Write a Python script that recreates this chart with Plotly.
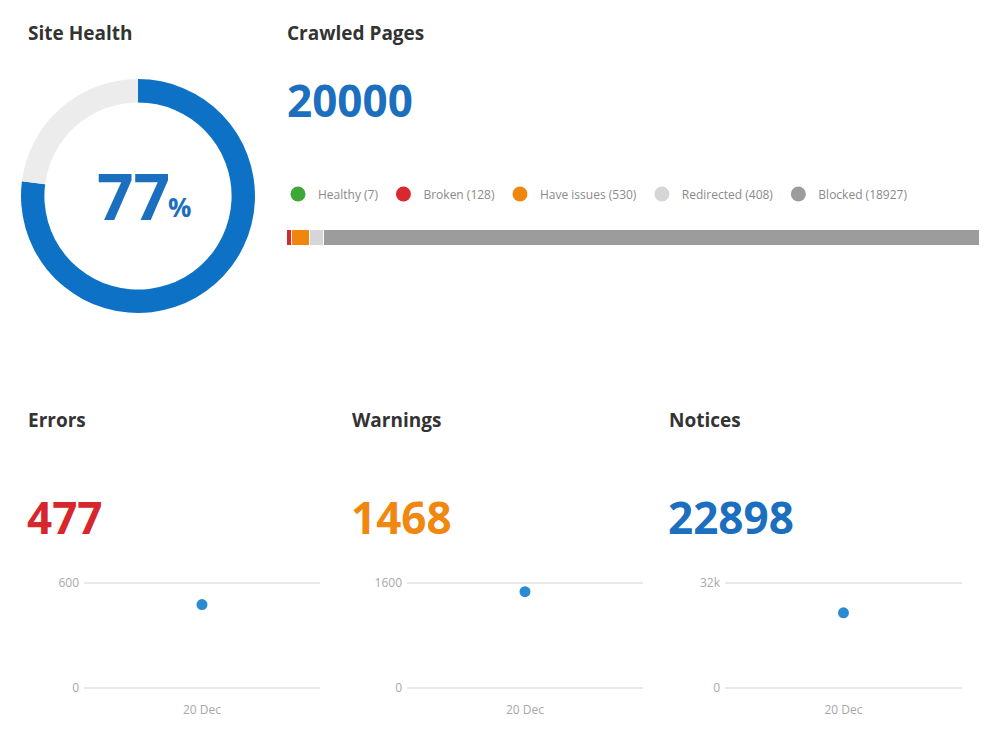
import plotly.graph_objects as go

# ---------------- data ----------------
health_labels = ["Health", "Remaining"]
health_values = [77, 23]
health_colors = ["#0d72c5", "#ececec"]
health_text = "77"

crawled_total_label = "20000"
crawl_categories = ["Healthy", "Broken", "Have issues", "Redirected", "Blocked"]
crawl_counts = [7, 128, 530, 408, 18927]
crawl_colors = ["#3da836", "#d9282f", "#f0860f", "#d6d6d6", "#9c9c9c"]

metric_names = ["Errors", "Warnings", "Notices"]
metric_values = [477, 1468, 22898]
metric_colors = ["#d7262c", "#f0870f", "#1b6fbe"]
metric_dates = ["20 Dec"]
metric_axis_max = [600, 1600, 32000]
metric_axis_ticktext = [["0", "600"], ["0", "1600"], ["0", "32k"]]

FONT = "Open Sans"
H = 750.0

def py(px):
    return 1 - px / H

fig = go.Figure()

# ---------------- donut ----------------
fig.add_trace(go.Pie(
    labels=health_labels, values=health_values, hole=0.8, sort=False,
    direction="clockwise", rotation=0, textinfo="none", hoverinfo="label+value",
    marker=dict(colors=health_colors, line=dict(width=0)),
    showlegend=False,
    domain=dict(x=[0.021, 0.255], y=[py(313), py(79)]),
))

# ---------------- crawled pages stacked bar ----------------
for cat, cnt, col in zip(crawl_categories, crawl_counts, crawl_colors):
    fig.add_trace(go.Bar(
        x=[cnt], y=["pages"], orientation="h", marker=dict(color=col, line=dict(color="white", width=1.5)),
        showlegend=False, xaxis="x", yaxis="y", hovertemplate=f"{cat}: %{{x}}<extra></extra>",
    ))
    fig.add_trace(go.Scatter(
        x=[None], y=[None], mode="markers", name=f"{cat} ({cnt})",
        marker=dict(color=col, size=15, symbol="circle"), xaxis="x", yaxis="y",
    ))

# ---------------- small metric charts ----------------
x_domains = [[0.084, 0.320], [0.407, 0.643], [0.725, 0.962]]
for i, (name, val) in enumerate(zip(metric_names, metric_values)):
    ax = i + 2
    fig.add_trace(go.Scatter(
        x=metric_dates, y=[val], mode="markers", showlegend=False,
        marker=dict(color="#2a8bd3", size=11),
        xaxis=f"x{ax}", yaxis=f"y{ax}", hovertemplate=f"{name}: %{{y}}<extra></extra>",
    ))

PAD = 0.02  # fraction of range added on each side so edge grid lines are drawn
y0_px, y1_px = 688.0, 583.0
span_px = y0_px - y1_px
dom_bottom = y0_px + PAD * span_px
dom_top = y1_px - PAD * span_px

layout_axes = {}
layout_axes["xaxis"] = dict(domain=[0.287, 0.980], range=[0, sum(crawl_counts)], visible=False,
                            fixedrange=True, automargin=False)
layout_axes["yaxis"] = dict(domain=[py(246), py(230)], visible=False, fixedrange=True, automargin=False)
for i, ymax in enumerate(metric_axis_max):
    ax = i + 2
    layout_axes[f"xaxis{ax}"] = dict(
        domain=x_domains[i], type="category", range=[-0.5, 0.5], anchor=f"y{ax}",
        showgrid=False, zeroline=False, showline=False, ticks="", automargin=False,
        tickfont=dict(family=FONT, size=12, color="#a8a8a8"), ticklabelstandoff=11,
    )
    layout_axes[f"yaxis{ax}"] = dict(
        domain=[py(dom_bottom), py(dom_top)], range=[-PAD * ymax, (1 + PAD) * ymax], anchor=f"x{ax}",
        tickvals=[0, ymax], ticktext=metric_axis_ticktext[i], automargin=False,
        showgrid=True, gridcolor="#e9e9e9", gridwidth=2, zeroline=False, showline=False,
        ticks="", ticklabelstandoff=4,
        tickfont=dict(family=FONT, size=12, color="#a8a8a8"),
    )

annotations = []
def label(text, x, y, size, color, bold=True, anchor="left"):
    annotations.append(dict(
        text=f"<b>{text}</b>" if bold else text, x=x / 1000.0, y=py(y), xref="paper", yref="paper",
        xanchor=anchor, yanchor="middle", showarrow=False,
        font=dict(family=FONT, size=size, color=color),
    ))

label("Site Health", 26, 33, 19, "#333333")
label("Crawled Pages", 285, 33, 19, "#333333")
label(crawled_total_label, 285, 100, 44, "#1b6fbe")
label(health_text, 95, 195, 64, "#1b6fbe")
label("%", 166, 207, 26, "#1b6fbe")

title_x = [26, 350, 667]
for name, val, col, tx in zip(metric_names, metric_values, metric_colors, title_x):
    label(name, tx, 420, 19, "#333333")
    label(str(val), tx - 1, 517, 44, col)

fig.update_layout(
    width=1000, height=750, margin=dict(l=0, r=0, t=0, b=0, autoexpand=False),
    paper_bgcolor="white", plot_bgcolor="white",
    barmode="stack", bargap=0,
    font=dict(family=FONT),
    legend=dict(
        orientation="h", x=0.278, xanchor="left", y=py(194), yanchor="middle",
        traceorder="normal",
        font=dict(family=FONT, size=12, color="#8a8a8a"), bgcolor="rgba(0,0,0,0)",
        itemclick=False, itemdoubleclick=False, tracegroupgap=0,
    ),
    annotations=annotations,
    **layout_axes,
)

fig.write_html("out.html")
